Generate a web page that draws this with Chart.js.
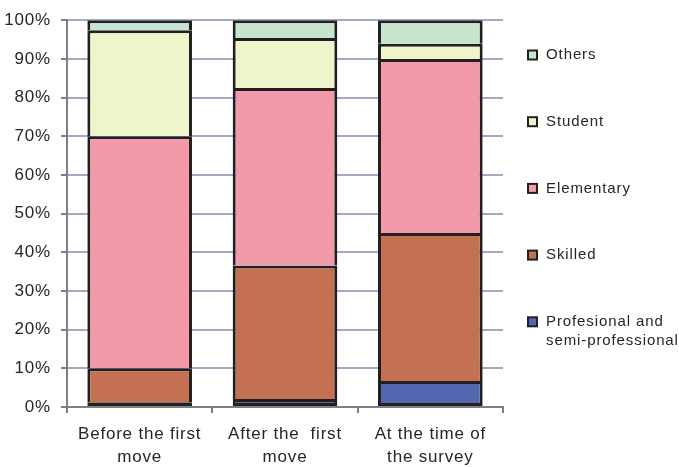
<!DOCTYPE html>
<html>
<head>
<meta charset="utf-8">
<script src="https://cdn.jsdelivr.net/npm/chart.js@4/dist/chart.umd.min.js"></script>
<style>
  html, body { margin: 0; padding: 0; background: #ffffff; }
  #wrap { width: 679px; height: 467px; position: relative; }
</style>
</head>
<body>
<div id="wrap"><canvas id="chart"></canvas></div>
<script>
// Occupation shares (%) at three stages of migration
const categories = [
  ['Before the first', 'move'],
  ['After the  first', 'move'],
  ['At the time of', 'the survey']
];
const professional = [1.2, 2.1, 6.7];
const skilled      = [8.8, 34.5, 38.3];
const elementary   = [60.0, 45.9, 45.0];
const student      = [27.4, 12.9, 3.9];
const others       = [2.6, 4.6, 6.1];

const seriesNames = [
  ['Profesional and', 'semi-professional'],
  ['Skilled'],
  ['Elementary'],
  ['Student'],
  ['Others']
];
const seriesColors = ['#5366b0', '#c47052', '#f29aaa', '#eef5cb', '#c6e5cf'];
const seriesData = [professional, skilled, elementary, student, others];

const yTicks = [0, 10, 20, 30, 40, 50, 60, 70, 80, 90, 100];

const INK = '#262626';
const EDGE = '#231f20';
const GRID = '#a3a9c6';
const AXIS = '#808080';

// Each segment carries its own top edge; the bottom segment also closes the base
const datasets = seriesData.map((d, i) => ({
  label: seriesNames[i].join(' '),
  data: d,
  backgroundColor: seriesColors[i],
  borderColor: EDGE,
  borderWidth: { left: 3, right: 3, top: 3, bottom: i === 0 ? 3 : 0 },
  borderSkipped: false,
  inflateAmount: 0,
  barPercentage: 0.72,
  categoryPercentage: 1.0
}));

// Right-hand legend: one swatch per series, top series first
const sideLegend = {
  id: 'sideLegend',
  beforeDraw(chart) {
    chart.ctx.letterSpacing = '0.8px';
  },
  afterDraw(chart) {
    const ctx = chart.ctx;
    ctx.save();
    ctx.letterSpacing = '0.9px';
    ctx.font = '15px "Liberation Sans", Arial, sans-serif';
    ctx.textBaseline = 'middle';
    ctx.textAlign = 'left';
    const boxX = 527, textX = 546, firstY = 55, step = 66.7, lineGap = 19.5;
    const order = [4, 3, 2, 1, 0];
    order.forEach((si, k) => {
      const cy = firstY + k * step;
      ctx.fillStyle = EDGE;
      ctx.fillRect(boxX, cy - 5.5, 11, 11);
      ctx.fillStyle = seriesColors[si];
      ctx.fillRect(boxX + 2, cy - 3.5, 7, 7);
      ctx.fillStyle = INK;
      seriesNames[si].forEach((line, li) => {
        ctx.fillText(line, textX, cy + li * lineGap);
      });
    });
    ctx.restore();
  }
};

new Chart(document.getElementById('chart'), {
  type: 'bar',
  data: { labels: categories, datasets },
  plugins: [sideLegend],
  options: {
    responsive: true,
    maintainAspectRatio: false,
    animation: false,
    layout: { padding: { top: 19, right: 176, bottom: 0, left: 0 } },
    plugins: {
      legend: { display: false },
      tooltip: { enabled: false }
    },
    scales: {
      x: {
        stacked: true,
        offset: true,
        border: { display: true, color: AXIS, width: 2 },
        grid: {
          offset: true,
          drawOnChartArea: true,
          color: (c) => (c.index === categories.length ? GRID : 'rgba(0,0,0,0)'),
          lineWidth: 2,
          tickColor: '#555555',
          tickLength: 6,
          tickWidth: 1.5
        },
        ticks: {
          color: INK,
          padding: 10,
          maxRotation: 0,
          autoSkip: false,
          font: { family: '"Liberation Sans", Arial, sans-serif', size: 17, lineHeight: 1.35 }
        },
        afterFit(scale) { scale.height = 60; }
      },
      y: {
        stacked: true,
        min: 0,
        max: 100,
        border: { display: true, color: AXIS, width: 2 },
        afterBuildTicks(scale) { scale.ticks = yTicks.map(v => ({ value: v })); },
        grid: {
          color: GRID,
          lineWidth: 2,
          tickColor: '#555555',
          tickLength: 6,
          tickWidth: 1.5
        },
        ticks: {
          color: INK,
          padding: 10,
          callback: (v) => v + '%',
          font: { family: '"Liberation Sans", Arial, sans-serif', size: 17 }
        },
        afterFit(scale) { scale.width = 67; }
      }
    }
  }
});
</script>
</body>
</html>
